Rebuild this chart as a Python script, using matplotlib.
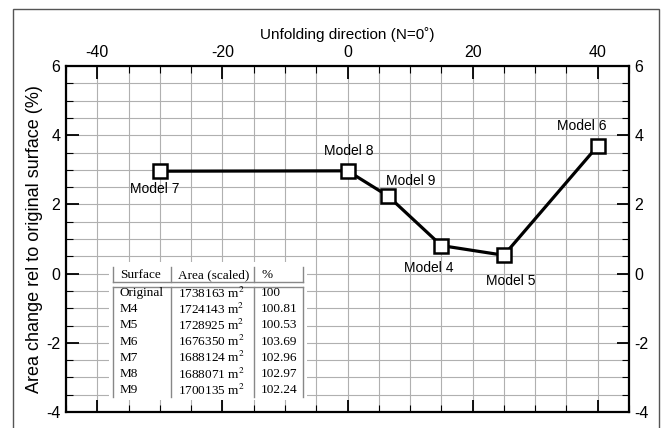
import matplotlib
matplotlib.use("Agg")
import matplotlib.pyplot as plt
from matplotlib.ticker import MultipleLocator
from matplotlib.patches import Rectangle
from matplotlib.lines import Line2D

plt.rcParams["axes.unicode_minus"] = False

# ---- data ----
models = ["Model 7", "Model 8", "Model 9", "Model 4", "Model 5", "Model 6"]
direction = [-30, 0, 6.5, 15, 25, 40]
area_change = [2.96, 2.97, 2.24, 0.81, 0.53, 3.69]
label_offsets_px = [(-5, -18), (1, 20), (23, 15), (-13, -22), (7, -26), (-16, 20)]

table_header = ["Surface", "Area (scaled)", "%"]
table_surface = ["Original", "M4", "M5", "M6", "M7", "M8", "M9"]
table_area = ["1738163", "1724143", "1728925", "1676350", "1688124", "1688071", "1700135"]
table_pct = ["100", "100.81", "100.53", "103.69", "102.96", "102.97", "102.24"]

W, H = 665, 428
fig = plt.figure(figsize=(W / 100, H / 100), dpi=100)
ax = fig.add_axes([66 / W, 1 - 412 / H, (629 - 66) / W, (412 - 66) / H])

sans = ["Liberation Sans", "DejaVu Sans"]
serif = ["Liberation Serif", "DejaVu Serif"]

ax.set_xlim(-45, 45)
ax.set_ylim(-4, 6)
ax.xaxis.set_major_locator(MultipleLocator(20))
ax.xaxis.set_minor_locator(MultipleLocator(5))
ax.yaxis.set_major_locator(MultipleLocator(2))
ax.yaxis.set_minor_locator(MultipleLocator(0.5))
ax.grid(True, which="both", color="#b0b0b0", lw=0.8, zorder=0)
ax.set_axisbelow(True)
ax.tick_params(which="both", direction="in", top=True, bottom=True, left=True, right=True,
               labeltop=True, labelbottom=False, labelleft=True, labelright=True,
               color="black", labelsize=11.5)
ax.tick_params(which="major", length=9, width=1.3, pad=4)
ax.tick_params(which="minor", length=5, width=0.8)
for lab in ax.get_xticklabels() + ax.get_yticklabels():
    lab.set_family(sans)
ax.xaxis.set_label_position("top")
ax.set_xlabel("Unfolding direction (N=0\u02da)", family=sans, fontsize=11, labelpad=5)
ax.set_ylabel("Area change rel to original surface (%)", family=sans, fontsize=13, labelpad=2)
for s in ax.spines.values():
    s.set_linewidth(1.6)

ax.plot(direction, area_change, color="black", lw=2.3, marker="s", markersize=9.5,
        markerfacecolor="white", markeredgecolor="black", markeredgewidth=1.8, zorder=5)

for m, x, y, (dx, dy) in zip(models, direction, area_change, label_offsets_px):
    ax.annotate(m, (x, y), xytext=(dx * 0.72, dy * 0.72), textcoords="offset points",
                ha="center", va="center", family=sans, fontsize=10, zorder=6)

# ---- inset table ----
def fx(px):
    return px / W

def fy(py):
    return 1 - py / H

fig.patches.append(Rectangle((fx(109), fy(400)), fx(307) - fx(109), fy(262) - fy(400),
                             transform=fig.transFigure, facecolor="white", edgecolor="none",
                             zorder=3))
tcol = "#888888"
for xv in [113, 171, 254, 303]:
    fig.lines.append(Line2D([fx(xv), fx(xv)], [fy(267), fy(282)], transform=fig.transFigure,
                            color=tcol, lw=1.0, zorder=4))
    fig.lines.append(Line2D([fx(xv), fx(xv)], [fy(287), fy(397)], transform=fig.transFigure,
                            color=tcol, lw=1.0, zorder=4))
for yv in [282, 287]:
    fig.lines.append(Line2D([fx(113), fx(303)], [fy(yv), fy(yv)], transform=fig.transFigure,
                            color=tcol, lw=1.0, zorder=4))

col_x = [120, 178, 261]
fs = 9.5
for cx, txt in zip(col_x, table_header):
    fig.text(fx(cx), fy(275), txt, family=serif, fontsize=fs, va="center", ha="left", zorder=5)
row_y0, row_dy = 293, 16.2
for i, (s, a, p) in enumerate(zip(table_surface, table_area, table_pct)):
    yy = fy(row_y0 + i * row_dy)
    fig.text(fx(col_x[0]), yy, s, family=serif, fontsize=fs, va="center", ha="left", zorder=5)
    fig.text(fx(col_x[1]), yy, a + " m$^2$", family=serif, fontsize=fs, va="center", ha="left",
             zorder=5, math_fontfamily="stix")
    fig.text(fx(col_x[2]), yy, p, family=serif, fontsize=fs, va="center", ha="left", zorder=5)

# ---- outer frame ----
fig.patches.append(Rectangle((fx(13), -0.05), fx(659) - fx(13), fy(9) + 0.05,
                             transform=fig.transFigure, facecolor="none", edgecolor="#555555",
                             lw=1.0, zorder=1))

fig.savefig("out.png", dpi=100)
